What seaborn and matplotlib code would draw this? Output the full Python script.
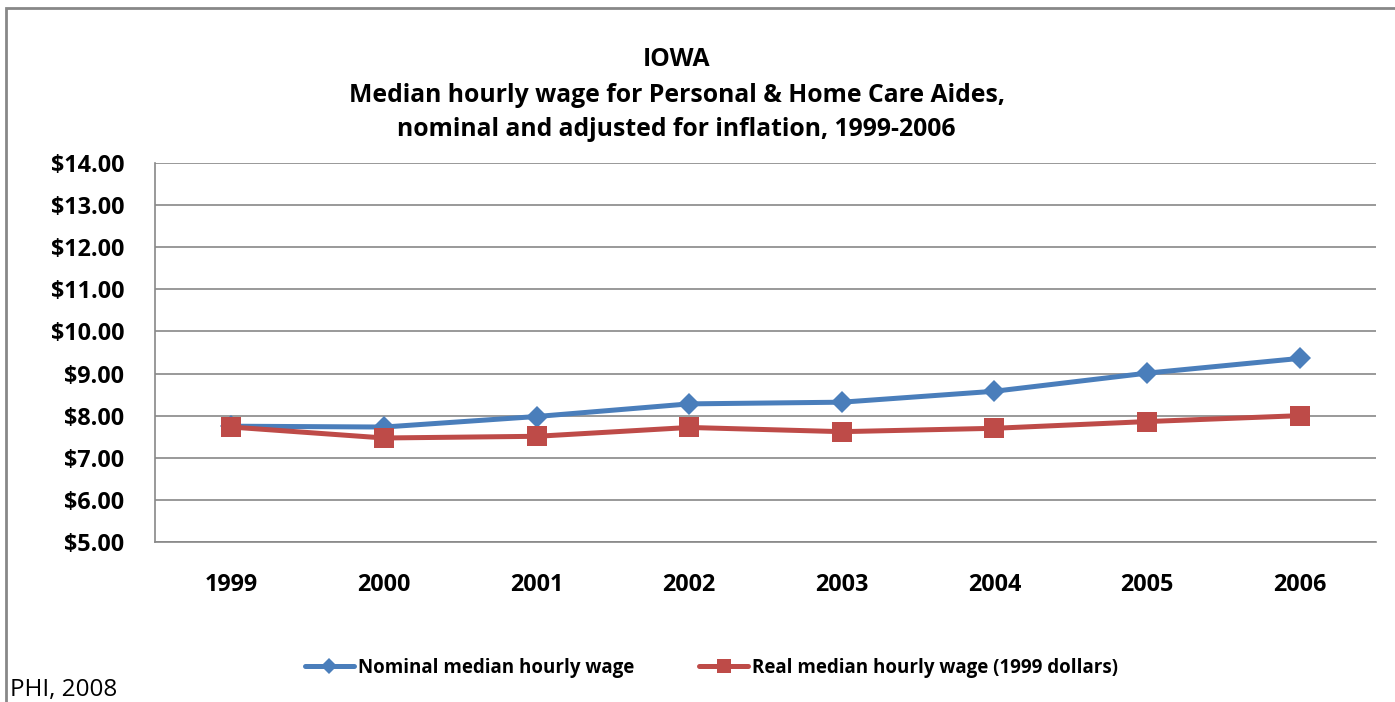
import seaborn as sns
import matplotlib.pyplot as plt
import pandas as pd
from matplotlib.patches import Rectangle

sns.set_style('white')
plt.rcParams['font.family'] = ['Open Sans', 'DejaVu Sans']
plt.rcParams['text.color'] = 'black'
plt.rcParams['xtick.color'] = 'black'
plt.rcParams['ytick.color'] = 'black'

years = ['1999', '2000', '2001', '2002', '2003', '2004', '2005', '2006']
nominal = [7.75, 7.73, 7.98, 8.28, 8.32, 8.58, 9.01, 9.36]
real = [7.73, 7.47, 7.51, 7.72, 7.62, 7.70, 7.86, 8.00]
series_names = ['Nominal median hourly wage', 'Real median hourly wage (1999 dollars)']

df = pd.DataFrame({
    'year': years * 2,
    'wage': nominal + real,
    'series': [series_names[0]] * len(years) + [series_names[1]] * len(years),
})

fig = plt.figure(figsize=(13.95, 7.02), dpi=100)
ax = fig.add_axes([155 / 1395, 1 - 542 / 702, (1376 - 155) / 1395, (542 - 163) / 702])

sns.lineplot(data=df, x='year', y='wage', hue='series', style='series',
             markers={series_names[0]: 'D', series_names[1]: 's'}, dashes=False,
             palette={series_names[0]: '#4A7EBB', series_names[1]: '#BE4B48'},
             linewidth=3.6, markersize=11.5, markeredgewidth=0, ax=ax, legend=True, zorder=3)
# squares a bit bigger than the diamonds
for ln in ax.lines:
    if ln.get_marker() == 's':
        ln.set_markersize(15)

ax.set_xlim(-0.5, 7.5)
ax.set_ylim(5, 14)
ax.set_yticks(range(5, 15))
ax.set_yticklabels([f'${v}.00' for v in range(5, 15)])
ax.yaxis.grid(True, color='#888888', linewidth=1.2)
ax.set_axisbelow(True)
for side in ['top', 'right']:
    ax.spines[side].set_visible(False)
for side in ['left', 'bottom']:
    ax.spines[side].set_color('#888888')
    ax.spines[side].set_linewidth(1.2)
ax.tick_params(axis='both', length=0, labelsize=16.8)
ax.tick_params(axis='y', pad=22)
ax.tick_params(axis='x', pad=22)
for lab in ax.get_xticklabels() + ax.get_yticklabels():
    lab.set_fontweight('bold')
ax.set_xlabel('')
ax.set_ylabel('')

handles, labels = ax.get_legend_handles_labels()
ax.get_legend().remove()
leg = fig.legend(handles, labels, loc='center', bbox_to_anchor=(0.51, 1 - 668 / 702), ncol=2,
                 frameon=False, fontsize=13.5, markerscale=0.7, handlelength=2.6,
                 handletextpad=0.2, columnspacing=3.5)
for t in leg.get_texts():
    t.set_fontweight('bold')

title_lines = ['IOWA', 'Median hourly wage for Personal & Home Care Aides,',
               'nominal and adjusted for inflation, 1999-2006']
for y_px, line in zip([59, 95, 130], title_lines):
    fig.text(0.485, 1 - y_px / 702, line, ha='center', va='center', fontsize=17.8, fontweight='bold')
fig.text(10 / 1395, 1 - 690 / 702, 'PHI, 2008', ha='left', va='center', fontsize=17.5)

fig.patches.append(Rectangle((6 / 1395, -0.5), 2, 1.5 - 8 / 702, transform=fig.transFigure,
                             fill=False, edgecolor='#888888', linewidth=2))

fig.savefig('out.png', dpi=100)
